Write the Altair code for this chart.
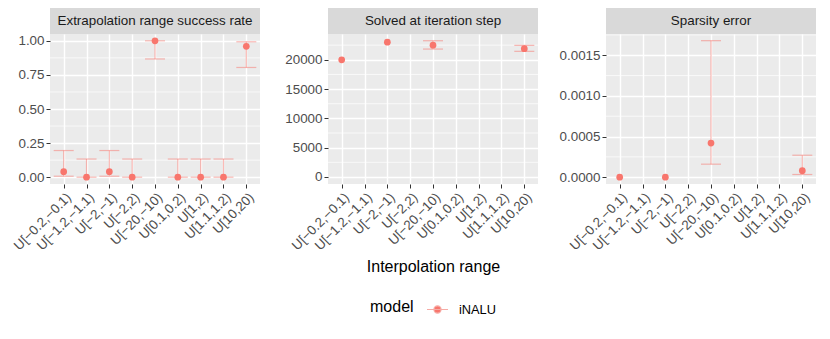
import altair as alt
import pandas as pd

# ---------------- data ----------------
categories = ["U[−0.2,−0.1)", "U[−1.2,−1.1)", "U[−2,−1)", "U[−2,2)", "U[−20,−10)",
              "U[0.1,0.2)", "U[1,2)", "U[1.1,1.2)", "U[10,20)"]
panel_titles = ["Extrapolation range success rate", "Solved at iteration step", "Sparsity error"]
model_names = ["iNALU"]

# panel 1: extrapolation range success rate
success_cat = categories
success_mean = [0.04, 0.0, 0.04, 0.0, 1.0, 0.0, 0.0, 0.0, 0.96]
success_lo = [0.0071, 0.0, 0.0071, 0.0, 0.8668, 0.0, 0.0, 0.0, 0.8046]
success_hi = [0.1954, 0.1332, 0.1954, 0.1332, 1.0, 0.1332, 0.1332, 0.1332, 0.9929]

# panel 2: solved at iteration step
step_cat = ["U[−0.2,−0.1)", "U[−2,−1)", "U[−20,−10)", "U[10,20)"]
step_mean = [20000, 23000, 22500, 21900]
step_lo = [None, None, 21830, 21440]
step_hi = [None, None, 23250, 22460]

# panel 3: sparsity error
sparse_cat = ["U[−0.2,−0.1)", "U[−2,−1)", "U[−20,−10)", "U[10,20)"]
sparse_mean = [0.0, 0.0, 0.00042, 0.00008]
sparse_lo = [None, None, 0.00016, 0.000033]
sparse_hi = [None, None, 0.00168, 0.00027]

# axis ticks
success_major = [0.0, 0.25, 0.5, 0.75, 1.0]
success_minor = [0.125, 0.375, 0.625, 0.875]
step_major = [0, 5000, 10000, 15000, 20000]
step_minor = [2500, 7500, 12500, 17500, 22500]
sparse_major = [0.0, 0.0005, 0.001, 0.0015]
sparse_minor = [0.00025, 0.00075, 0.00125, 0.00175]

# ---------------- style ----------------
W, H = 210, 150
STRIP = 26
RED = "#F8766D"
FONT = "Liberation Sans"
LEGEND_SYMBOL = ("M-1,0L1,0M-0.34,0A0.34,0.34,0,1,1,0.34,0"
                 "A0.34,0.34,0,1,1,-0.34,0Z")


def panel(cats, mean, lo, hi, title, domain, major, minor, fmt, xtitle, with_legend):
    df = pd.DataFrame({"cat": cats, "mean": mean, "lo": lo, "hi": hi,
                       "model": [model_names[0]] * len(cats)})
    xenc = alt.X("cat:N", sort=categories,
                 scale=alt.Scale(type="point", domain=categories, padding=0.6),
                 axis=alt.Axis(title=xtitle, labelAngle=-45, labelAlign="right",
                               labelBaseline="top", titlePadding=6))
    yscale = alt.Scale(domain=domain, nice=False, zero=False)
    yaxis = alt.Axis(values=major, format=fmt, title=None)

    minor_df = pd.DataFrame({"v": minor})
    minor_rules = alt.Chart(minor_df).mark_rule(color="white", strokeWidth=0.7).encode(
        y=alt.Y("v:Q", scale=yscale, axis=yaxis))

    base = alt.Chart(df)
    bars = base.mark_rule(color=RED, opacity=0.5, strokeWidth=1.2).encode(
        x=xenc, y=alt.Y("lo:Q", scale=yscale, axis=yaxis), y2="hi:Q")
    cap_lo = base.mark_tick(color=RED, opacity=0.5, size=20, thickness=1.2).encode(
        x=xenc, y=alt.Y("lo:Q", scale=yscale, axis=yaxis))
    cap_hi = base.mark_tick(color=RED, opacity=0.5, size=20, thickness=1.2).encode(
        x=xenc, y=alt.Y("hi:Q", scale=yscale, axis=yaxis))
    if with_legend:
        color = alt.Color("model:N", scale=alt.Scale(domain=model_names, range=[RED]),
                          legend=alt.Legend(title="model", orient="none",
                                            legendX=320, legendY=264,
                                            direction="horizontal", titleOrient="left",
                                            titleFontSize=16, titleFont=FONT,
                                            titleColor="black", titleFontWeight="normal",
                                            titlePadding=12,
                                            labelFontSize=12.8, labelFont=FONT,
                                            labelColor="black", labelOffset=10,
                                            symbolType=LEGEND_SYMBOL, symbolSize=441,
                                            symbolFillColor=RED, symbolStrokeColor="#F6ABA5",
                                            symbolStrokeWidth=1.2, symbolOpacity=1))
    else:
        color = alt.value(RED)
    points = base.mark_circle(size=45, opacity=1).encode(
        x=xenc, y=alt.Y("mean:Q", scale=yscale, axis=yaxis), color=color)

    strip_df = pd.DataFrame({"label": [title]})
    strip_bg = alt.Chart(strip_df).mark_rect(color="#D9D9D9").encode(
        x=alt.value(0), x2=alt.value(W), y=alt.value(-STRIP), y2=alt.value(0))
    strip_txt = alt.Chart(strip_df).mark_text(
        font=FONT, fontSize=13.4, color="#1A1A1A", baseline="middle", align="center").encode(
        x=alt.value(W / 2), y=alt.value(-STRIP / 2), text="label:N")

    return alt.layer(minor_rules, bars, cap_lo, cap_hi, points, strip_bg, strip_txt).properties(
        width=W, height=H)


p1 = panel(success_cat, success_mean, success_lo, success_hi, panel_titles[0],
           [-0.05, 1.05], success_major, success_minor, ".2f", None, False)
p2 = panel(step_cat, step_mean, step_lo, step_hi, panel_titles[1],
           [-1200, 24400], step_major, step_minor, "d", "Interpolation range", True)
p3 = panel(sparse_cat, sparse_mean, sparse_lo, sparse_hi, panel_titles[2],
           [-0.000084, 0.001762], sparse_major, sparse_minor, ".4f", None, False)

chart = alt.hconcat(p1, p2, p3, spacing=68, bounds="flush").properties(
    padding={"left": 3, "top": 0, "right": 5, "bottom": 5}
).configure_view(
    fill="#EBEBEB", stroke=None
).configure_axis(
    labelFont=FONT, labelFontSize=13.4, labelColor="#4D4D4D", labelPadding=2,
    tickColor="#333333", tickSize=4, tickWidth=1,
    domain=False, grid=True, gridColor="white", gridWidth=1.4,
    titleFont=FONT, titleFontSize=16, titleColor="black", titleFontWeight="normal"
)

chart.save("out.html", embed_options={"renderer": "svg", "actions": False})
